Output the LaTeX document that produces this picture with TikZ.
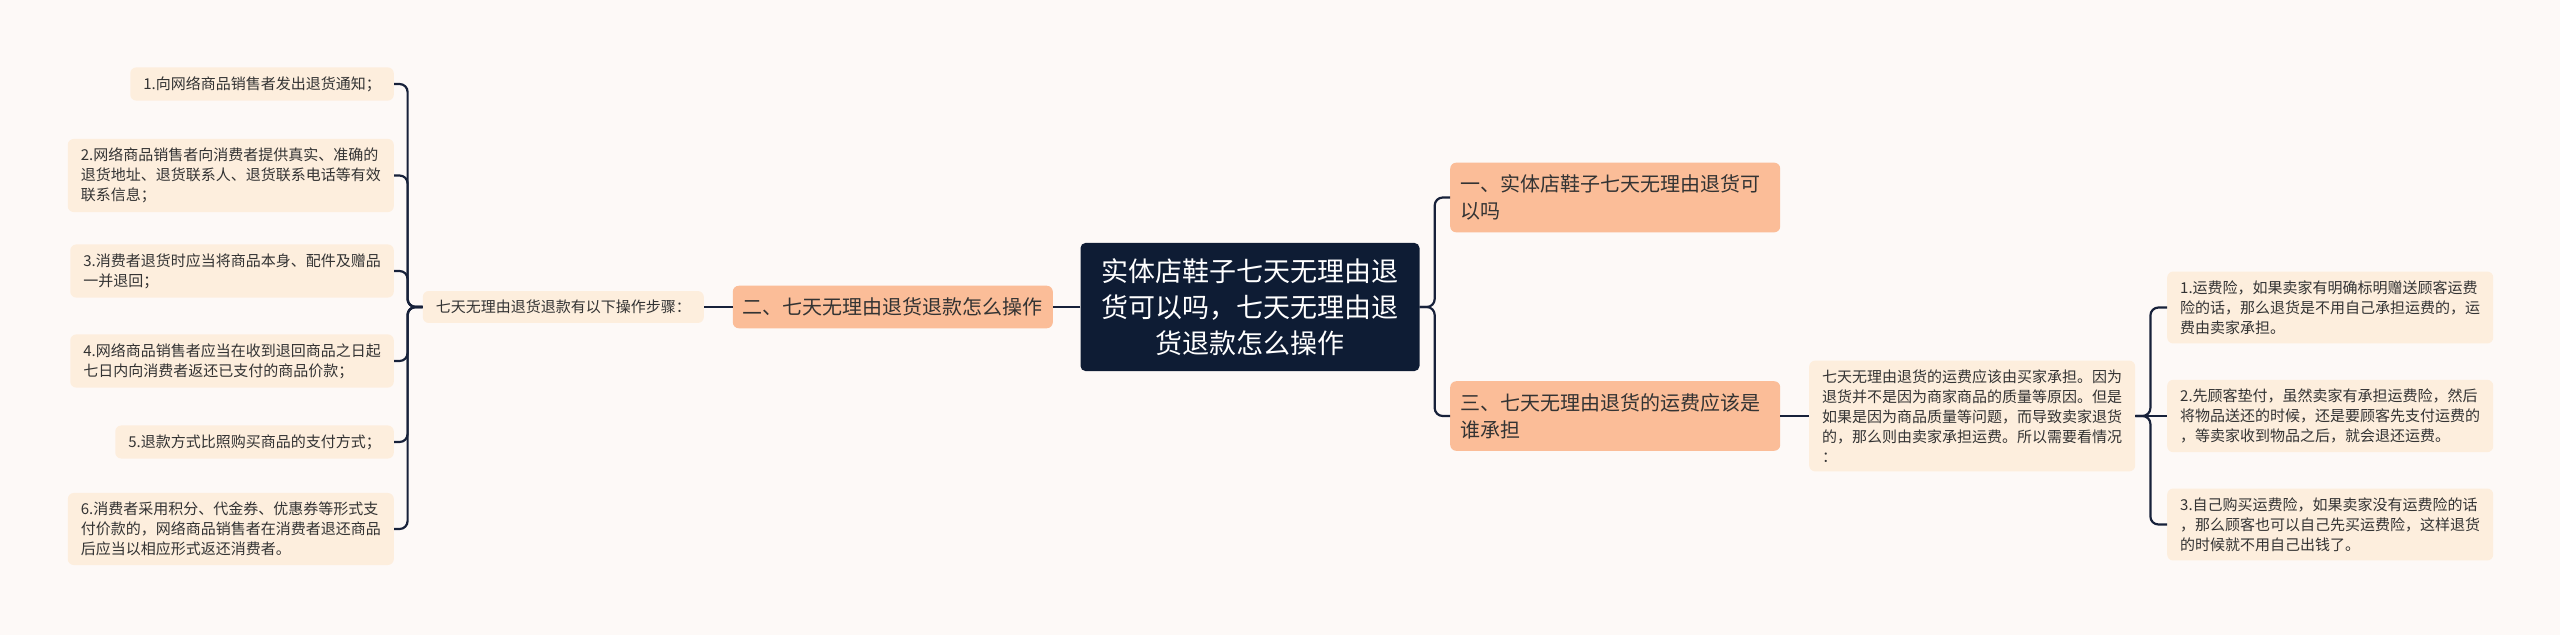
\documentclass[tikz,border=0pt]{standalone}
\usepackage{fontspec}
\setmainfont{Noto Sans CJK SC}
\usepackage{xcolor}
\usepackage{tikz}
\usetikzlibrary{positioning}
\definecolor{darknavy}{HTML}{0E1C34}
\definecolor{linenavy}{HTML}{17213A}
\definecolor{peach}{HTML}{FBBD98}
\definecolor{cream}{HTML}{FDEEDD}
\definecolor{paper}{HTML}{FDF9F7}
\definecolor{inktext}{HTML}{333333}

\begin{document}
\begin{tikzpicture}[
    x=1pt, y={(0,-1pt)},
    % Node styles
    title/.style={fill=darknavy, text=white, rounded corners=5pt, align=center, inner xsep=21pt, inner ysep=15.5pt, font=\fontsize{27}{36}\selectfont},
    section/.style={fill=peach, text=inktext, rounded corners=6pt, align=left, inner xsep=10pt, inner ysep=12pt, font=\fontsize{20}{27}\selectfont},
    leaf/.style={fill=cream, text=inktext, rounded corners=6pt, align=left, inner xsep=13pt, inner ysep=9pt, font=\fontsize{15}{20}\selectfont},
    % Edge styles
    edge/.style={draw=linenavy, line width=2.2pt},
    fork/.style={draw=linenavy, line width=2.2pt, rounded corners=8pt}
]

% Background
\fill[paper] (0,0) rectangle (2560,635);
\useasboundingbox (0,0) rectangle (2560,635);

% Level 0 - Title
\node[title] (title) at (1250,307) {实体店鞋子七天无理由退\\货可以吗，七天无理由退\\货退款怎么操作};

% Level 1 - Right side
\node[section, text width=310pt, anchor=west] (sec1) at (1450,197.5) {一、实体店鞋子七天无理由退货可\\以吗};
\node[section, text width=310pt, anchor=west] (sec3) at (1450,416) {三、七天无理由退货的运费应该是\\谁承担};

% Level 1 - Left side
\node[section, anchor=east] (sec2) at (1053,307) {二、七天无理由退货退款怎么操作};

% Level 2 - From sec2
\node[leaf, anchor=east] (steps) at (704,307) {七天无理由退货退款有以下操作步骤：};

% Level 3 - From steps
\node[leaf, anchor=east] (step1) at (394,84) {1.向网络商品销售者发出退货通知；};
\node[leaf, anchor=east] (step2) at (394,175.5) {2.网络商品销售者向消费者提供真实、准确的\\退货地址、退货联系人、退货联系电话等有效\\联系信息；};
\node[leaf, anchor=east] (step3) at (394,271) {3.消费者退货时应当将商品本身、配件及赠品\\一并退回；};
\node[leaf, anchor=east] (step4) at (394,361) {4.网络商品销售者应当在收到退回商品之日起\\七日内向消费者返还已支付的商品价款；};
\node[leaf, anchor=east] (step5) at (394,442) {5.退款方式比照购买商品的支付方式；};
\node[leaf, anchor=east] (step6) at (394,529) {6.消费者采用积分、代金券、优惠券等形式支\\付价款的，网络商品销售者在消费者退还商品\\后应当以相应形式返还消费者。};

% Level 2 - From sec3
\node[leaf, anchor=west] (fee) at (1809,416) {七天无理由退货的运费应该由买家承担。因为\\退货并不是因为商家商品的质量等原因。但是\\如果是因为商品质量等问题，而导致卖家退货\\的，那么则由卖家承担运费。所以需要看情况\\：};

% Level 3 - From fee
\node[leaf, anchor=west] (fee1) at (2167,307.5) {1.运费险，如果卖家有明确标明赠送顾客运费\\险的话，那么退货是不用自己承担运费的，运\\费由卖家承担。};
\node[leaf, anchor=west] (fee2) at (2167,416) {2.先顾客垫付，虽然卖家有承担运费险，然后\\将物品送还的时候，还是要顾客先支付运费的\\，等卖家收到物品之后，就会退还运费。};
\node[leaf, anchor=west] (fee3) at (2167,524.5) {3.自己购买运费险，如果卖家没有运费险的话\\，那么顾客也可以自己先买运费险，这样退货\\的时候就不用自己出钱了。};

% Draw all edges
\draw[fork] (title.east) -- ++(15,0) |- (sec1.west);
\draw[fork] (title.east) -- ++(15,0) |- (sec3.west);

\draw[edge] (title.west) -- (sec2.east);
\draw[edge] (sec2.west) -- (steps.east);

\foreach \s in {step1,step2,step3,step4,step5,step6}
    \draw[fork] (steps.west) -- ++(-15,0) |- (\s.east);

\draw[edge] (sec3.east) -- (fee.west);

\foreach \f in {fee1,fee3}
    \draw[fork] (fee.east) -- ++(15,0) |- (\f.west);
\draw[edge] (fee.east) -- (fee2.west);

\end{tikzpicture}
\end{document}
